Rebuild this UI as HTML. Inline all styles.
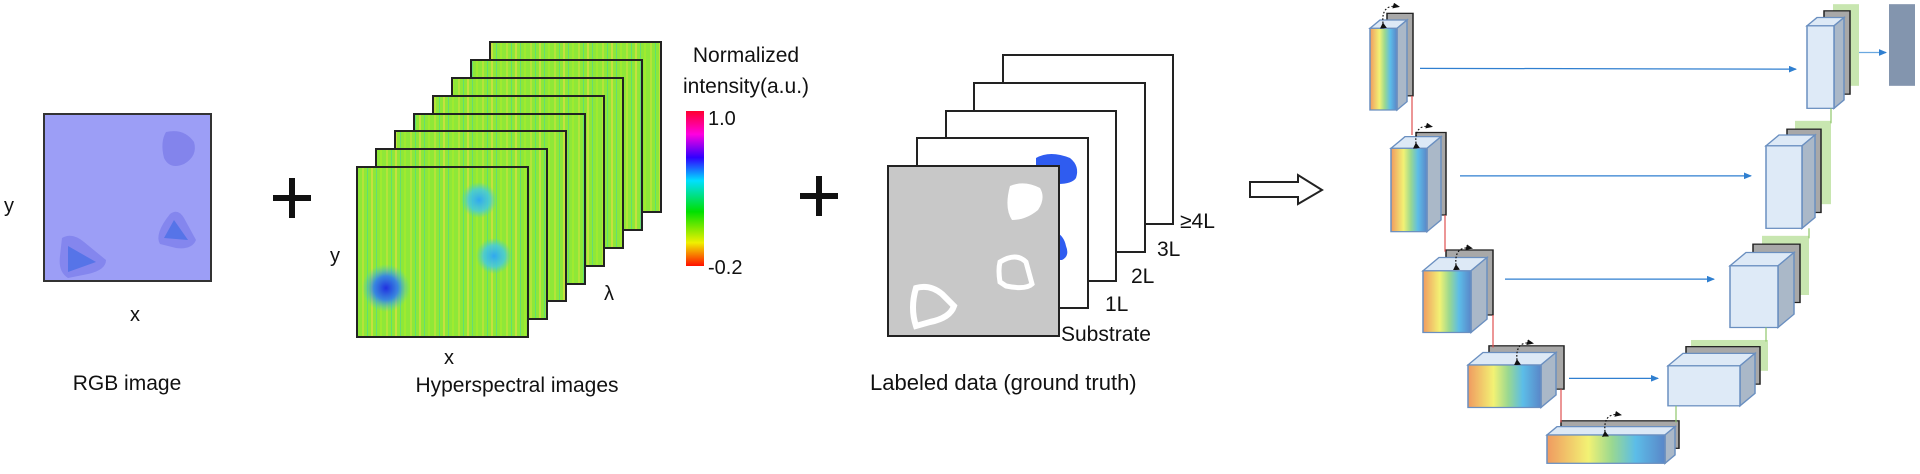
<!DOCTYPE html>
<html><head><meta charset="utf-8"><style>
body{margin:0;background:#fff;width:1920px;height:474px;overflow:hidden}
svg{display:block}
text{font-family:"Liberation Sans",sans-serif;fill:#111}
</style></head><body>
<svg width="1920" height="474" viewBox="0 0 1920 474" xmlns="http://www.w3.org/2000/svg">
<defs>
<linearGradient id="rb" x1="0" x2="1" y1="0" y2="0">
<stop offset="0" stop-color="#f09a60"/><stop offset="0.35" stop-color="#f2f274"/><stop offset="0.55" stop-color="#9ad890"/><stop offset="0.75" stop-color="#5cbde8"/><stop offset="1" stop-color="#5a86c8"/></linearGradient>
<linearGradient id="cb" x1="0" x2="0" y1="0" y2="1">
<stop offset="0" stop-color="#ff0030"/><stop offset="0.15" stop-color="#ff00e0"/><stop offset="0.3" stop-color="#3000ff"/><stop offset="0.45" stop-color="#00e0ff"/><stop offset="0.65" stop-color="#00e000"/><stop offset="0.85" stop-color="#f0f000"/><stop offset="1" stop-color="#ff1000"/></linearGradient>
<pattern id="hs" width="24" height="170" patternUnits="userSpaceOnUse">
<rect width="24" height="170" fill="#8ee838"/>
<rect x="2" width="2" height="170" fill="#b4e43a"/><rect x="7" width="1" height="170" fill="#60e070"/>
<rect x="11" width="2" height="170" fill="#c6e040"/><rect x="16" width="1" height="170" fill="#66dc74"/>
<rect x="20" width="2" height="170" fill="#a0ea30"/>
</pattern>
<radialGradient id="bl"><stop offset="0" stop-color="#2030e0"/><stop offset="0.5" stop-color="#2f7cf0" stop-opacity="0.9"/><stop offset="1" stop-color="#40c8e8" stop-opacity="0"/></radialGradient>
<radialGradient id="cy"><stop offset="0" stop-color="#30a8f0"/><stop offset="0.6" stop-color="#40c8e8" stop-opacity="0.8"/><stop offset="1" stop-color="#40d0d0" stop-opacity="0"/></radialGradient>
<marker id="ah" markerWidth="8" markerHeight="8" refX="7" refY="4" orient="auto" markerUnits="userSpaceOnUse"><path d="M0,0 L8,4 L0,8z" fill="#2f7fd0"/></marker>
<marker id="ak" markerWidth="7" markerHeight="7" refX="6" refY="3.5" orient="auto" markerUnits="userSpaceOnUse"><path d="M0,0 L7,3.5 L0,7z" fill="#111"/></marker>
</defs>

<!-- RGB image -->
<rect x="44" y="114" width="167" height="167" fill="#9c9ef6" stroke="#333" stroke-width="2"/>
<path d="M166,132 q18,-4 28,10 q4,14 -10,22 q-14,6 -20,-6 q-4,-16 2,-26z" fill="#8384ec"/>
<path d="M170,214 q8,-6 14,4 l12,22 q-4,10 -20,8 l-16,-4 q-6,-10 10,-30z" fill="#8486ee"/>
<path d="M174,220 l14,20 l-24,-2z" fill="#5674e8"/>
<path d="M62,238 q10,-6 22,4 l22,18 q0,10 -18,14 l-20,4 q-10,-6 -8,-22z" fill="#8486ee"/>
<path d="M68,246 l28,16 l-28,10z" fill="#5674e8"/>
<text x="4" y="212" font-size="20">y</text>
<text x="130" y="321" font-size="20">x</text>
<text x="127" y="390" font-size="21" text-anchor="middle">RGB image</text>
<!-- plus -->
<rect x="273" y="195" width="38" height="6" fill="#111"/><rect x="289" y="178" width="6" height="40" fill="#111"/>
<rect x="800" y="193" width="38" height="6" fill="#111"/><rect x="816" y="176" width="6" height="40" fill="#111"/>

<!-- hyperspectral stack -->
<g stroke="#222" stroke-width="2" fill="url(#hs)">
<rect x="490" y="42" width="171" height="170"/>
<rect x="471" y="60" width="171" height="170"/>
<rect x="452" y="78" width="171" height="170"/>
<rect x="433" y="96" width="171" height="170"/>
<rect x="414" y="114" width="171" height="170"/>
<rect x="395" y="131" width="171" height="170"/>
<rect x="376" y="149" width="171" height="170"/>
<rect x="357" y="167" width="171" height="170"/>
</g>
<ellipse cx="386" cy="288" rx="24" ry="24" fill="url(#bl)"/>
<ellipse cx="479" cy="200" rx="18" ry="18" fill="url(#cy)"/>
<ellipse cx="494" cy="256" rx="18" ry="18" fill="url(#cy)"/>
<text x="330" y="262" font-size="20">y</text>
<text x="444" y="364" font-size="20">x</text>
<text x="604" y="300" font-size="20">λ</text>
<text x="517" y="392" font-size="21" text-anchor="middle">Hyperspectral images</text>
<rect x="686" y="111" width="18" height="155" fill="url(#cb)"/>
<text x="708" y="125" font-size="20">1.0</text>
<text x="708" y="274" font-size="20">-0.2</text>
<text x="746" y="62" font-size="21" text-anchor="middle">Normalized</text>
<text x="746" y="93" font-size="21" text-anchor="middle">intensity(a.u.)</text>

<!-- labeled data -->
<g stroke="#222" stroke-width="2" fill="#fff">
<rect x="1003" y="55" width="170" height="169"/>
<rect x="974" y="83" width="171" height="169"/>
<rect x="946" y="111" width="170" height="170"/>
<rect x="917" y="138" width="171" height="170"/>
</g>
<path d="M1036,158 q14,-8 34,0 q10,8 6,20 q-4,6 -18,6 l-22,0z" fill="#2f5cf0"/>
<path d="M1056,232 q8,4 10,14 q4,10 -4,14 l-6,0z" fill="#2f5cf0"/>
<rect x="888" y="166" width="171" height="170" fill="#c8c8c8" stroke="#222" stroke-width="2"/>
<path d="M1010,186 q14,-6 30,2 q6,10 -2,22 q-12,10 -26,10 q-8,-12 -2,-34z" fill="#fff"/>
<path d="M1000,262 q16,-10 26,0 l6,22 q-6,6 -26,2 l-6,-4 q-2,-12 0,-20z" fill="none" stroke="#fff" stroke-width="5"/>
<path d="M916,288 q14,-4 26,6 l12,12 q-4,12 -24,16 l-14,4 q-6,-18 0,-38z" fill="none" stroke="#fff" stroke-width="6"/>
<text x="1180" y="228" font-size="21">≥4L</text>
<text x="1157" y="256" font-size="21">3L</text>
<text x="1131" y="283" font-size="21">2L</text>
<text x="1105" y="311" font-size="21">1L</text>
<text x="1061" y="341" font-size="21">Substrate</text>
<text x="870" y="390" font-size="22">Labeled data (ground truth)</text>
<!-- hollow arrow -->
<path d="M1250,182 L1298,182 L1298,175 L1322,190 L1298,204 L1298,197 L1250,197z" fill="#fff" stroke="#222" stroke-width="2"/>

<!-- U-Net -->
<g transform="scale(1,0.8333)">
<g stroke="#6a8fc0" stroke-width="1.5">
<rect x="1833" y="5" width="26" height="98" fill="#c8e6b0" stroke="none"/>
<rect x="1795" y="145" width="36" height="100" fill="#c8e6b0" stroke="none"/>
<rect x="1762" y="283" width="47" height="71" fill="#c8e6b0" stroke="none"/>
<rect x="1691" y="408" width="77" height="37" fill="#c8e6b0" stroke="none"/>
<g fill="#a8a8a8" stroke="#222" stroke-width="1.5">
<rect x="1387" y="16" width="26" height="99"/>
<rect x="1416" y="159" width="30" height="99"/>
<rect x="1446" y="300" width="47" height="78"/>
<rect x="1489" y="415" width="75" height="52"/>
<rect x="1561" y="505" width="118" height="33"/>
<rect x="1824" y="13" width="26" height="100"/>
<rect x="1787" y="155" width="34" height="100"/>
<rect x="1753" y="293" width="47" height="70"/>
<rect x="1686" y="416" width="74" height="45"/>
</g>
<polygon points="1370,34 1380,24 1407,24 1397,34" fill="#dde9f6"/><polygon points="1397,34 1407,24 1407,122 1397,132" fill="#aab8c8"/><rect x="1370" y="34" width="27" height="98" fill="url(#rb)"/>
<polygon points="1391,178 1405,164 1441,164 1427,178" fill="#dde9f6"/><polygon points="1427,178 1441,164 1441,264 1427,278" fill="#aab8c8"/><rect x="1391" y="178" width="36" height="100" fill="url(#rb)"/>
<polygon points="1423,325 1439,309 1487,309 1471,325" fill="#dde9f6"/><polygon points="1471,325 1487,309 1487,383 1471,399" fill="#aab8c8"/><rect x="1423" y="325" width="48" height="74" fill="url(#rb)"/>
<polygon points="1468,438 1483,423 1556,423 1541,438" fill="#dde9f6"/><polygon points="1541,438 1556,423 1556,474 1541,489" fill="#aab8c8"/><rect x="1468" y="438" width="73" height="51" fill="url(#rb)"/>
<polygon points="1547,522 1557,512 1675,512 1665,522" fill="#dde9f6"/><polygon points="1665,522 1675,512 1675,546 1665,556" fill="#aab8c8"/><rect x="1547" y="522" width="118" height="34" fill="url(#rb)"/>
<polygon points="1807,31 1817,21 1844,21 1834,31" fill="#dde9f6"/><polygon points="1834,31 1844,21 1844,120 1834,130" fill="#aab8c8"/><rect x="1807" y="31" width="27" height="99" fill="#deeaf7"/>
<polygon points="1766,175 1779,162 1815,162 1802,175" fill="#dde9f6"/><polygon points="1802,175 1815,162 1815,261 1802,274" fill="#aab8c8"/><rect x="1766" y="175" width="36" height="99" fill="#deeaf7"/>
<polygon points="1730,319 1746,303 1794,303 1778,319" fill="#dde9f6"/><polygon points="1778,319 1794,303 1794,377 1778,393" fill="#aab8c8"/><rect x="1730" y="319" width="48" height="74" fill="#deeaf7"/>
<polygon points="1668,439 1683,424 1755,424 1740,439" fill="#dde9f6"/><polygon points="1740,439 1755,424 1755,472 1740,487" fill="#aab8c8"/><rect x="1668" y="439" width="72" height="48" fill="#deeaf7"/>
</g>
<rect x="1889" y="5" width="26" height="98" fill="#8395ae"/>
<g stroke="#e05050" stroke-width="1.2">
<line x1="1412" y1="115" x2="1412" y2="162"/><line x1="1445" y1="258" x2="1445" y2="302"/>
<line x1="1493" y1="378" x2="1493" y2="417"/><line x1="1561" y1="467" x2="1561" y2="507"/>
</g>
<g stroke="#8ec66a" stroke-width="1.2">
<line x1="1831" y1="130" x2="1831" y2="148"/><line x1="1809" y1="274" x2="1809" y2="286"/>
<line x1="1766" y1="393" x2="1766" y2="410"/><line x1="1676" y1="487" x2="1676" y2="507"/>
</g>
<g stroke="#2f7fd0" stroke-width="1.5" marker-end="url(#ah)">
<line x1="1420" y1="82" x2="1796" y2="83"/>
<line x1="1460" y1="211" x2="1751" y2="211"/>
<line x1="1505" y1="335" x2="1714" y2="335"/>
<line x1="1569" y1="454" x2="1658" y2="454"/>
<line x1="1859" y1="63" x2="1886" y2="63" stroke="#6aa8e0"/>
</g>
<g fill="none" stroke="#111" stroke-width="1.2" stroke-dasharray="2,2" marker-start="url(#ak)" marker-end="url(#ak)">
<path d="M1383,28 q-2,-24 16,-20"/>
<path d="M1416,172 q-2,-24 16,-20"/>
<path d="M1456,318 q-2,-24 16,-20"/>
<path d="M1517,432 q-2,-24 16,-20"/>
<path d="M1605,518 q-2,-24 16,-20"/>
</g>
</g>
</svg>
</body></html>
